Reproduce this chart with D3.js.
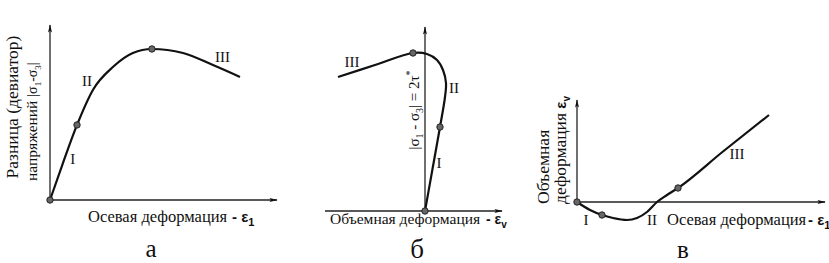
<!DOCTYPE html>
<html>
<head>
<meta charset="utf-8">
<script src="https://cdn.jsdelivr.net/npm/d3@7"></script>
<style>
  body { margin: 0; background: #fff; }
  text { font-family: "Liberation Serif", "Times New Roman", serif; fill: #111; }
  .sym { font-family: "Liberation Sans", Arial, sans-serif; }
</style>
</head>
<body>
<svg id="chart" width="829" height="263"></svg>
<script>
// curve points (arbitrary strain / stress units)
const stressStrain = [[0, 0], [0.57, 2.11], [1.19, 4.29], [1.89, 6.29], [2.77, 7.6], [3.65, 8.4],
  [4.49, 8.63], [5.86, 8.4], [7.18, 7.71], [8.37, 7.03]];
const stressStrainDots = [[0, 0], [1.19, 4.29], [4.49, 8.63]];

const stressVolume = [[0, 0], [0.75, 4.2], [1.5, 8.4], [2.0, 11.4], [2.1, 12.8], [1.8, 14.1],
  [1.2, 15.1], [0.2, 15.7], [-1.2, 15.8], [-5.0, 14.6], [-8.7, 13.4]];
const stressVolumeDots = [[0, 0], [1.5, 8.4], [-1.2, 15.8]];

const volumeStrain = [[0, 0], [1.3, -0.8], [2.5, -1.3], [3.6, -1.6], [5.0, -1.8], [6.0, -1.6],
  [7.0, -1.0], [8.0, 0], [9.0, 0.7], [10.1, 1.4], [14.6, 5.05], [19.2, 8.7]];
const volumeStrainDots = [[0, 0], [2.5, -1.3], [10.1, 1.4]];

const stageLabels = ["I", "II", "III"];

const svg = d3.select("#chart");

svg.append("defs").append("marker")
  .attr("id", "arrow")
  .attr("viewBox", "0 0 10 6")
  .attr("refX", 9).attr("refY", 3)
  .attr("markerWidth", 9).attr("markerHeight", 5)
  .attr("markerUnits", "userSpaceOnUse")
  .attr("orient", "auto")
  .append("path")
  .attr("d", "M0,0.6 L10,3 L0,5.4 L2,3 Z")
  .attr("fill", "#111");

// draws one panel: axes with arrows, curve, dots, stage labels
const panel = (cfg) => {
  const x = d3.scaleLinear().domain(cfg.xDomain).range(cfg.xRange);
  const y = d3.scaleLinear().domain(cfg.yDomain).range(cfg.yRange);
  const g = svg.append("g");

  // axes
  g.append("line")
    .attr("x1", x(cfg.xDomain[0])).attr("x2", x(cfg.xDomain[1]))
    .attr("y1", y(0)).attr("y2", y(0))
    .attr("stroke", "#222").attr("stroke-width", 1.3)
    .attr("marker-end", "url(#arrow)");
  g.append("line")
    .attr("x1", x(0)).attr("x2", x(0))
    .attr("y1", y(cfg.yDomain[0])).attr("y2", y(cfg.yDomain[1]))
    .attr("stroke", "#222").attr("stroke-width", 1.3)
    .attr("marker-end", "url(#arrow)");

  const line = d3.line()
    .x((d) => x(d[0]))
    .y((d) => y(d[1]))
    .curve(cfg.curveType);

  g.append("path")
    .datum(cfg.curve)
    .attr("d", line)
    .attr("fill", "none")
    .attr("stroke", "#111")
    .attr("stroke-width", 2.2);

  g.selectAll(".dot")
    .data(cfg.dots)
    .join("circle")
    .attr("class", "dot")
    .attr("cx", (d) => x(d[0]))
    .attr("cy", (d) => y(d[1]))
    .attr("r", 3.2)
    .attr("fill", "#666")
    .attr("stroke", "#222")
    .attr("stroke-width", 1);

  g.selectAll(".stage")
    .data(cfg.stages)
    .join("text")
    .attr("class", "stage")
    .attr("x", (d) => x(d[0]))
    .attr("y", (d) => y(d[1]))
    .attr("text-anchor", "middle")
    .attr("font-size", 15)
    .text((d, i) => stageLabels[i]);

  return { x, y, g };
};

// subscript helper
const sub = (t, s, size) =>
  t.append("tspan").attr("font-size", size).attr("dy", 4).text(s);

/* ---- panel а ---- */
const a = panel({
  xDomain: [0, 10], xRange: [50, 277],
  yDomain: [0, 10], yRange: [200, 25],
  curve: stressStrain, dots: stressStrainDots,
  curveType: d3.curveMonotoneX,
  stages: [[1.0, 2.05], [1.63, 6.5], [7.6, 7.9]]
});

a.g.append("text").attr("x", 88).attr("y", 222).attr("font-size", 16.5)
  .text("Осевая деформация");
{
  const t = a.g.append("text").attr("class", "sym").attr("x", 232).attr("y", 222)
    .attr("font-size", 15).attr("font-weight", "bold");
  t.append("tspan").text("- ε");
  sub(t, "1", 11);
}
a.g.append("text").attr("transform", "translate(18,107) rotate(-90)")
  .attr("text-anchor", "middle").attr("font-size", 17.5).text("Разница (девиатор)");
{
  const t = a.g.append("text").attr("transform", "translate(37,181) rotate(-90)")
    .attr("font-size", 15.5);
  t.append("tspan").text("напряжений ");
  t.append("tspan").attr("font-size", 14).text("|σ");
  sub(t, "1", 9);
  t.append("tspan").attr("font-size", 14).attr("dy", -4).text("-σ");
  sub(t, "3", 9);
  t.append("tspan").attr("font-size", 14).attr("dy", -4).text("|");
}
a.g.append("text").attr("x", 151).attr("y", 257).attr("text-anchor", "middle")
  .attr("font-size", 25).text("а");

/* ---- panel б ---- */
const b = panel({
  xDomain: [-10, 7.7], xRange: [325, 502],
  yDomain: [0, 18.4], yRange: [211, 27],
  curve: stressVolume, dots: stressVolumeDots,
  curveType: d3.curveCatmullRom.alpha(0.5),
  stages: [[1.4, 4.3], [2.9, 11.8], [-7.3, 14.4]]
});

b.g.append("text").attr("x", 330).attr("y", 224).attr("font-size", 15.5)
  .text("Объемная деформация");
{
  const t = b.g.append("text").attr("class", "sym").attr("x", 486).attr("y", 224)
    .attr("font-size", 14).attr("font-weight", "bold");
  t.append("tspan").text("- ε");
  sub(t, "v", 10);
}
{
  const t = b.g.append("text").attr("transform", "translate(419,110) rotate(-90)")
    .attr("text-anchor", "middle").attr("font-size", 15);
  t.append("tspan").text("|σ");
  sub(t, "1", 10);
  t.append("tspan").attr("dy", -4).text(" - σ");
  sub(t, "3", 10);
  t.append("tspan").attr("dy", -4).text("| = 2τ");
  t.append("tspan").attr("font-size", 10).attr("dy", -6).text("*");
}
b.g.append("text").attr("x", 417).attr("y", 258).attr("text-anchor", "middle")
  .attr("font-size", 27).text("б");

/* ---- panel в ---- */
const c = panel({
  xDomain: [0, 24.8], xRange: [577, 825],
  yDomain: [0, 10.2], yRange: [202, 100],
  curve: volumeStrain, dots: volumeStrainDots,
  curveType: d3.curveMonotoneX,
  stages: [[0.9, -2.3], [7.5, -2.3], [16.0, 4.3]]
});

c.g.append("text").attr("x", 667).attr("y", 225).attr("font-size", 16.5)
  .text("Осевая деформация");
{
  const t = c.g.append("text").attr("class", "sym").attr("x", 808).attr("y", 225)
    .attr("font-size", 15).attr("font-weight", "bold");
  t.append("tspan").text("- ε");
  sub(t, "1", 11);
}
c.g.append("text").attr("transform", "translate(549,204) rotate(-90)")
  .attr("font-size", 17.5).text("Объемная");
{
  const t = c.g.append("text").attr("transform", "translate(566,204) rotate(-90)")
    .attr("font-size", 17.5);
  t.append("tspan").text("деформация ");
  t.append("tspan").attr("class", "sym").attr("font-weight", "bold").attr("font-size", 15).text("ε");
  t.append("tspan").attr("class", "sym").attr("font-weight", "bold").attr("font-size", 10).attr("dy", 4).text("v");
}
c.g.append("text").attr("x", 683).attr("y", 258).attr("text-anchor", "middle")
  .attr("font-size", 25).text("в");
</script>
</body>
</html>
